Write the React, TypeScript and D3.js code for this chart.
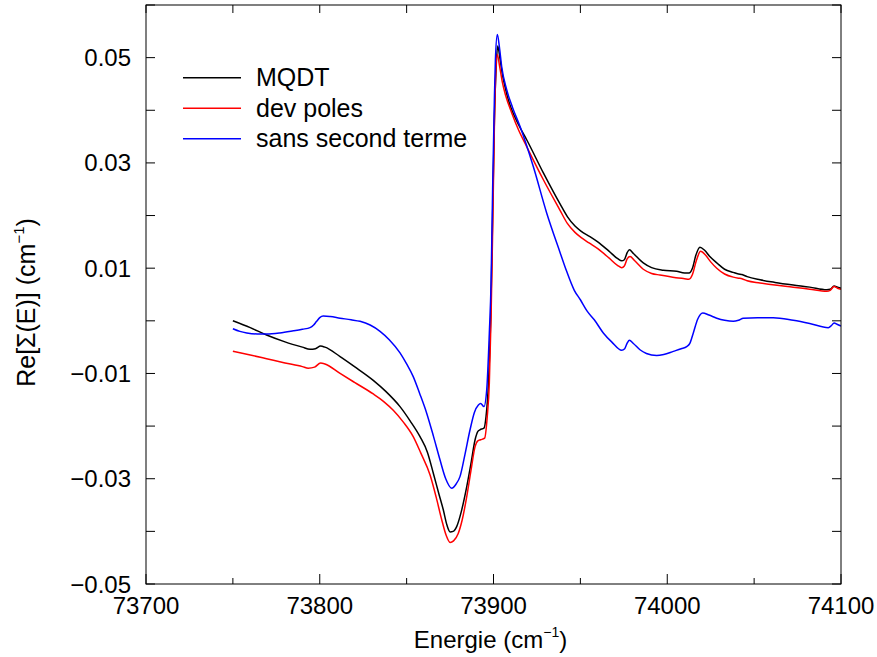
import React from "react";
import * as d3 from "d3";

// ---- Data ----
const mqdtE = [73750, 73760, 73769.4, 73780, 73790, 73794.4, 73797.5, 73800.5, 73803, 73811.7, 73820, 73830.8, 73838, 73846.2, 73852, 73857.7, 73862, 73865.4, 73868.5, 73871.1, 73873.2, 73875, 73876.8, 73878.8, 73881.5, 73884.6, 73887.2, 73889.4, 73891, 73892.2, 73894.5, 73895.7, 73897.1, 73898.4, 73899.5, 73900.5, 73901.5, 73902.4, 73903.7, 73905, 73906.6, 73908.5, 73910.5, 73914.5, 73919.1, 73928.7, 73938.3, 73942.5, 73946.9, 73950.5, 73955.5, 73960, 73966.6, 73971.5, 73973.8, 73975.3, 73977, 73978.2, 73980.5, 73986.2, 73991, 73997.7, 74005.4, 74010, 74012.5, 74014.5, 74016.5, 74018.8, 74021.5, 74024.5, 74028.5, 74033, 74038, 74041, 74043, 74046, 74053.4, 74062, 74072.5, 74082, 74091.8, 74093.8, 74096, 74098, 74100];
const mqdtV = [0.0, -0.0013, -0.0027, -0.004, -0.005, -0.0054, -0.0053, -0.0048, -0.005, -0.0068, -0.0087, -0.0113, -0.0134, -0.0163, -0.019, -0.022, -0.025, -0.029, -0.0328, -0.0359, -0.0388, -0.0401, -0.04, -0.0391, -0.0362, -0.0315, -0.0268, -0.0226, -0.021, -0.0207, -0.0204, -0.0182, -0.0118, 0.0008, 0.02, 0.038, 0.048, 0.0522, 0.0499, 0.047, 0.0445, 0.042, 0.0401, 0.0372, 0.0344, 0.0281, 0.0222, 0.0198, 0.018, 0.017, 0.016, 0.015, 0.0132, 0.0118, 0.0114, 0.0116, 0.013, 0.0135, 0.0128, 0.011, 0.0101, 0.0096, 0.0094, 0.0091, 0.0091, 0.01, 0.0125, 0.014, 0.0134, 0.0122, 0.011, 0.0098, 0.0092, 0.0089, 0.0088, 0.0084, 0.0078, 0.0073, 0.0068, 0.0064, 0.0059, 0.006, 0.0066, 0.0064, 0.0062];

const devE = [73750, 73760, 73769.4, 73780, 73790, 73793.4, 73797, 73800.5, 73803, 73811.7, 73820, 73830.8, 73837, 73842.3, 73848, 73853.8, 73858, 73863.5, 73867, 73870.2, 73872.8, 73875, 73877, 73879.7, 73882, 73884.6, 73887, 73889.4, 73891, 73892.6, 73894.9, 73896.4, 73897.6, 73898.6, 73899.6, 73900.5, 73901.3, 73902.2, 73903.5, 73905, 73907, 73910.5, 73914.5, 73919.1, 73928.7, 73938.3, 73942.5, 73946.9, 73950.5, 73955, 73960, 73966.6, 73971.5, 73973.8, 73975.3, 73977, 73978.6, 73981, 73986.2, 73991, 73995.8, 74005, 74010, 74012.5, 74014.5, 74016.8, 74019.2, 74022, 74025, 74028.5, 74033, 74038, 74041, 74043, 74046, 74053.4, 74062, 74072.5, 74082, 74091.8, 74093.8, 74096, 74098, 74100];
const devV = [-0.0058, -0.0065, -0.0072, -0.008, -0.0087, -0.009, -0.0088, -0.008, -0.0082, -0.01, -0.0117, -0.0139, -0.0154, -0.017, -0.0192, -0.022, -0.025, -0.0293, -0.0335, -0.0378, -0.0408, -0.0421, -0.0418, -0.0404, -0.0378, -0.0334, -0.0285, -0.0239, -0.0228, -0.0226, -0.0223, -0.0182, -0.0118, 0.0008, 0.019, 0.037, 0.047, 0.0506, 0.0484, 0.0455, 0.0428, 0.0395, 0.0362, 0.0331, 0.0268, 0.021, 0.0185, 0.0168, 0.0158, 0.0148, 0.0137, 0.0119, 0.0105, 0.0101, 0.0104, 0.0118, 0.0122, 0.0115, 0.0098, 0.009, 0.0087, 0.0082, 0.008, 0.0079, 0.0088, 0.0115, 0.0132, 0.0125, 0.0112, 0.01, 0.0089, 0.0083, 0.0081, 0.008, 0.0076, 0.0072, 0.0068, 0.0064, 0.006, 0.0056, 0.0058, 0.0065, 0.0062, 0.006];

const sansE = [73750, 73754, 73758, 73764, 73769.4, 73777, 73784.8, 73790, 73794.4, 73796.5, 73798.2, 73800, 73802, 73806, 73811.7, 73818, 73823.2, 73829, 73834.7, 73840, 73846.2, 73850, 73853.8, 73857.5, 73861.5, 73865.5, 73869.2, 73872.5, 73875.9, 73878.5, 73880.7, 73883.5, 73886.5, 73889, 73891.3, 73892.6, 73894.5, 73896.1, 73897.6, 73898.6, 73899.5, 73900.5, 73901.1, 73902.2, 73903.4, 73904.7, 73907.6, 73911, 73915.3, 73922.9, 73930.6, 73938.3, 73942, 73946.5, 73950, 73954, 73958, 73963.2, 73968, 73973.8, 73975.5, 73977, 73978.2, 73980.5, 73984.3, 73988, 73993.9, 73998, 74003.5, 74008, 74011.2, 74013, 74015, 74017.5, 74020.4, 74024, 74028.5, 74033, 74038, 74041, 74043.8, 74052, 74061, 74072.5, 74082, 74092.7, 74094.5, 74096, 74098, 74100];
const sansV = [-0.0015, -0.002, -0.0023, -0.0025, -0.0025, -0.0023, -0.0019, -0.0016, -0.0013, -0.0008, -0.0001, 0.0006, 0.0009, 0.0008, 0.0005, 0.0002, -0.0001, -0.0008, -0.002, -0.0036, -0.0061, -0.0082, -0.0106, -0.0138, -0.0175, -0.022, -0.0264, -0.03, -0.0318, -0.031, -0.0296, -0.0255, -0.0207, -0.0174, -0.016, -0.0157, -0.0163, -0.0131, -0.0023, 0.0072, 0.025, 0.042, 0.0496, 0.0544, 0.052, 0.0483, 0.0439, 0.0405, 0.0369, 0.0293, 0.0205, 0.013, 0.0095, 0.0058, 0.004, 0.0018, 0.0002, -0.0023, -0.004, -0.0056, -0.0053, -0.0042, -0.0037, -0.0043, -0.0055, -0.0062, -0.0066, -0.0064, -0.0058, -0.0053, -0.0049, -0.0043, -0.0023, 0.0003, 0.0015, 0.0011, 0.0005, 0.0001, -0.0001, 0.0001, 0.0005, 0.0006, 0.0006, 0.0001, -0.0005, -0.0013, -0.0009, -0.0004, -0.0007, -0.001];

const seriesNames = ["MQDT", "dev poles", "sans second terme"];
const seriesColors = ["#000000", "#ff0000", "#0000ff"];

const xTickValues = [73700, 73750, 73800, 73850, 73900, 73950, 74000, 74050, 74100];
const xLabelValues = [73700, 73800, 73900, 74000, 74100];
const yTickValues = [-0.05, -0.04, -0.03, -0.02, -0.01, 0, 0.01, 0.02, 0.03, 0.04, 0.05, 0.06];
const yLabelValues = [-0.05, -0.03, -0.01, 0.01, 0.03, 0.05];

const W = 877, H = 657;
const L = 146, R = 841, T = 5, B = 584;
const FONT = "'Liberation Sans', Arial, Helvetica, sans-serif";

export default function App() {
  const x = d3.scaleLinear().domain([73700, 74100]).range([L, R]);
  const y = d3.scaleLinear().domain([-0.05, 0.06]).range([B, T]);
  const line = d3
    .line<[number, number]>()
    .x((d) => x(d[0]))
    .y((d) => y(d[1]))
    .curve(d3.curveMonotoneX);

  const series = [
    d3.zip(mqdtE, mqdtV) as [number, number][],
    d3.zip(devE, devV) as [number, number][],
    d3.zip(sansE, sansV) as [number, number][],
  ];
  const fmt = (v: number) => {
    const s = d3.format(".2f")(Math.abs(v));
    return v < 0 ? "\u2212" + s : s;
  };

  return (
    <svg
      width={W}
      height={H}
      style={{ position: "absolute", left: 0, top: 0, background: "#fff" }}
      fontFamily={FONT}
    >
      <rect x={0} y={0} width={W} height={H} fill="#fff" />
      <defs>
        <clipPath id="plot">
          <rect x={L} y={T} width={R - L} height={B - T} />
        </clipPath>
      </defs>
      <g clipPath="url(#plot)">
        {[0, 1, 2].map((i) => (
          <path
            key={i}
            d={line(series[i]) || ""}
            fill="none"
            stroke={seriesColors[i]}
            strokeWidth={1.5}
            strokeLinejoin="round"
          />
        ))}
      </g>
      <rect x={L} y={T} width={R - L} height={B - T} fill="none" stroke="#000" strokeWidth={1} />
      {xTickValues.map((v) => {
        const major = xLabelValues.includes(v);
        return (
          <g key={"xt" + v}>
            <line x1={x(v)} x2={x(v)} y1={B} y2={B - (major ? 10 : 6)} stroke="#000" />
            <line x1={x(v)} x2={x(v)} y1={T} y2={T + 8} stroke="#000" />
          </g>
        );
      })}
      {xLabelValues.map((v) => (
        <text key={"xl" + v} x={x(v)} y={614} fontSize={24} textAnchor="middle" fill="#000">
          {String(v)}
        </text>
      ))}
      {yTickValues.map((v) => (
        <g key={"yt" + v}>
          <line x1={L} x2={L + 9} y1={y(v)} y2={y(v)} stroke="#000" />
          <line x1={R} x2={R - 9} y1={y(v)} y2={y(v)} stroke="#000" />
        </g>
      ))}
      {yLabelValues.map((v) => (
        <text key={"yl" + v} x={131} y={y(v) + 8.5} fontSize={24} textAnchor="end" fill="#000">
          {fmt(v)}
        </text>
      ))}
      <text x={(L + R) / 2 - 3} y={648} fontSize={24} textAnchor="middle" fill="#000">
        Energie (cm
        <tspan fontSize={14} dy={-11}>{"\u22121"}</tspan>
        <tspan dy={11}>)</tspan>
      </text>
      <text
        transform={`translate(35, ${(T + B) / 2 + 8}) rotate(-90)`}
        fontSize={25}
        textAnchor="middle"
        fill="#000"
      >
        Re[Σ(E)] (cm
        <tspan fontSize={15} dy={-11}>{"\u22121"}</tspan>
        <tspan dy={11}>)</tspan>
      </text>
      {seriesNames.map((name, i) => {
        const ly = 77.7 + i * 30.5;
        return (
          <g key={"lg" + i}>
            <line x1={183} x2={241} y1={ly} y2={ly} stroke={seriesColors[i]} strokeWidth={1.5} />
            <text x={256} y={ly + 8.5} fontSize={25} fill="#000">
              {name}
            </text>
          </g>
        );
      })}
    </svg>
  );
}
